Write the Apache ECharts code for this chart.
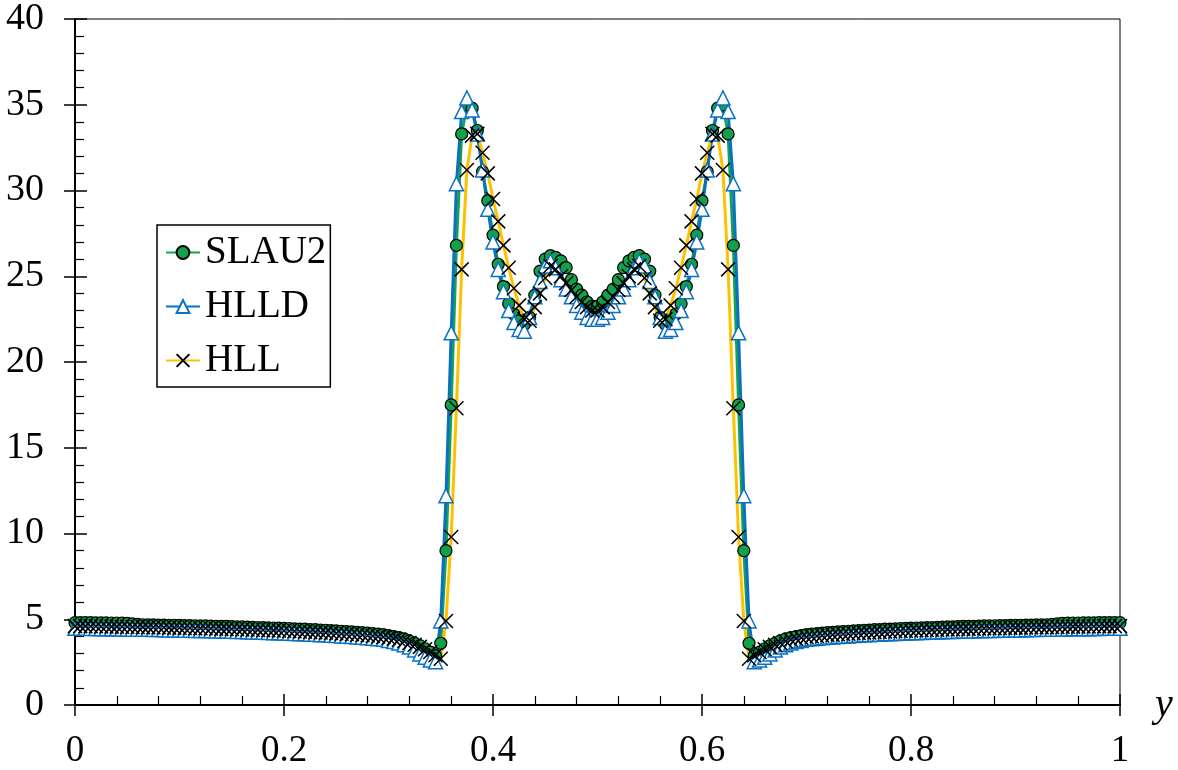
<!DOCTYPE html>
<html>
<head>
<meta charset="utf-8">
<script src="https://cdn.jsdelivr.net/npm/echarts@6/dist/echarts.min.js"></script>
<style>
html,body{margin:0;padding:0;background:#fff;}
#chart{width:1178px;height:770px;}
</style>
</head>
<body>
<div id="chart"></div>
<script>
// grid spacing of the sampled positions along y (0 .. 1)
const Y_STEP = 0.005;
const SERIES_NAMES = ['SLAU2', 'HLLD', 'HLL'];
const X_TICK_LABELS = ['0', '0.2', '0.4', '0.6', '0.8', '1'];
const Y_TICK_LABELS = ['0', '5', '10', '15', '20', '25', '30', '35', '40'];

const slau2 = [
  4.80,4.80,4.80,4.80,4.79,4.79,4.79,4.78,4.78,4.77,
  4.76,4.73,4.70,4.68,4.67,4.67,4.66,4.66,4.65,4.65,
  4.64,4.63,4.63,4.62,4.61,4.61,4.60,4.59,4.58,4.58,
  4.57,4.56,4.55,4.54,4.53,4.52,4.51,4.50,4.49,4.48,
  4.47,4.46,4.44,4.43,4.42,4.40,4.39,4.37,4.36,4.34,
  4.32,4.30,4.28,4.26,4.24,4.22,4.19,4.16,4.13,4.10,
  4.04,3.99,3.93,3.85,3.74,3.61,3.46,3.28,3.08,2.87,
  3.6,9.0,17.5,26.8,33.3,35.0,34.8,33.5,31.1,29.4,
  27.4,25.7,24.4,23.4,22.8,22.4,22.2,22.6,23.9,25.3,
  26.0,26.2,26.1,25.9,25.5,24.8,24.25,23.9,23.5,23.25,
  23.25,23.5,23.9,24.25,24.8,25.5,25.9,26.1,26.2,26.0,
  25.3,23.9,22.6,22.2,22.4,22.8,23.4,24.4,25.7,27.4,
  29.4,31.1,33.5,34.8,35.0,33.3,26.8,17.5,9.0,3.6,
  2.87,3.08,3.28,3.46,3.61,3.74,3.85,3.93,3.99,4.04,
  4.10,4.13,4.16,4.19,4.22,4.24,4.26,4.28,4.30,4.32,
  4.34,4.36,4.37,4.39,4.40,4.42,4.43,4.44,4.46,4.47,
  4.48,4.49,4.50,4.51,4.52,4.53,4.54,4.55,4.56,4.57,
  4.58,4.58,4.59,4.60,4.61,4.61,4.62,4.63,4.63,4.64,
  4.65,4.65,4.66,4.66,4.67,4.67,4.68,4.70,4.73,4.76,
  4.77,4.78,4.78,4.79,4.79,4.79,4.80,4.80,4.80,4.80,
  4.80
];

const hlld = [
  4.47,4.47,4.47,4.46,4.46,4.45,4.45,4.44,4.44,4.43,
  4.43,4.42,4.42,4.41,4.41,4.40,4.40,4.39,4.38,4.38,
  4.37,4.36,4.36,4.35,4.34,4.34,4.33,4.32,4.31,4.31,
  4.30,4.29,4.28,4.27,4.26,4.25,4.24,4.23,4.22,4.21,
  4.20,4.19,4.17,4.16,4.15,4.13,4.12,4.10,4.09,4.07,
  4.05,4.03,4.01,3.99,3.97,3.95,3.92,3.89,3.86,3.83,
  3.76,3.70,3.62,3.52,3.38,3.20,2.98,2.78,2.62,2.52,
  4.9,12.2,21.7,30.4,34.6,35.4,34.7,33.3,31.2,28.9,
  27.0,25.4,24.1,23.0,22.3,21.9,21.8,22.6,23.8,24.7,
  25.6,25.9,25.5,24.8,24.25,23.8,23.3,22.9,22.6,22.5,
  22.5,22.6,22.9,23.3,23.8,24.25,24.8,25.5,25.9,25.6,
  24.7,23.8,22.6,21.8,21.9,22.3,23.0,24.1,25.4,27.0,
  28.9,31.2,33.3,34.7,35.4,34.6,30.4,21.7,12.2,4.9,
  2.52,2.62,2.78,2.98,3.20,3.38,3.52,3.62,3.70,3.76,
  3.83,3.86,3.89,3.92,3.95,3.97,3.99,4.01,4.03,4.05,
  4.07,4.09,4.10,4.12,4.13,4.15,4.16,4.17,4.19,4.20,
  4.21,4.22,4.23,4.24,4.25,4.26,4.27,4.28,4.29,4.30,
  4.31,4.31,4.32,4.33,4.34,4.34,4.35,4.36,4.36,4.37,
  4.38,4.38,4.39,4.40,4.40,4.41,4.41,4.42,4.42,4.43,
  4.43,4.44,4.44,4.45,4.45,4.46,4.46,4.47,4.47,4.47,
  4.47
];

const hll = [
  4.60,4.60,4.60,4.59,4.59,4.58,4.58,4.57,4.57,4.56,
  4.56,4.55,4.55,4.54,4.54,4.53,4.53,4.52,4.51,4.51,
  4.50,4.49,4.49,4.48,4.47,4.47,4.46,4.45,4.44,4.44,
  4.43,4.42,4.41,4.40,4.39,4.38,4.37,4.36,4.35,4.34,
  4.33,4.32,4.30,4.29,4.28,4.26,4.25,4.23,4.22,4.20,
  4.18,4.16,4.14,4.12,4.10,4.08,4.05,4.02,3.99,3.96,
  3.92,3.87,3.80,3.72,3.62,3.51,3.39,3.25,3.09,2.90,
  2.70,4.9,9.8,17.3,25.4,31.2,33.2,33.3,32.2,31.0,
  29.5,28.2,26.8,25.5,24.3,23.3,22.5,22.4,23.2,24.0,
  24.9,25.6,25.4,25.0,24.6,24.2,23.8,23.5,23.2,23.0,
  23.0,23.2,23.5,23.8,24.2,24.6,25.0,25.4,25.6,24.9,
  24.0,23.2,22.4,22.5,23.3,24.3,25.5,26.8,28.2,29.5,
  31.0,32.2,33.3,33.2,31.2,25.4,17.3,9.8,4.9,2.70,
  2.90,3.09,3.25,3.39,3.51,3.62,3.72,3.80,3.87,3.92,
  3.96,3.99,4.02,4.05,4.08,4.10,4.12,4.14,4.16,4.18,
  4.20,4.22,4.23,4.25,4.26,4.28,4.29,4.30,4.32,4.33,
  4.34,4.35,4.36,4.37,4.38,4.39,4.40,4.41,4.42,4.43,
  4.44,4.44,4.45,4.46,4.47,4.47,4.48,4.49,4.49,4.50,
  4.51,4.51,4.52,4.53,4.53,4.54,4.54,4.55,4.55,4.56,
  4.56,4.57,4.57,4.58,4.58,4.59,4.59,4.60,4.60,4.60,
  4.60
];

const FONT = '"Liberation Serif","Times New Roman",serif';
const pairs = arr => arr.map((v, i) => [+(i * Y_STEP).toFixed(4), v]);

const xLabelFmt = v => {
  const idx = Math.round(v / 0.2);
  return X_TICK_LABELS[idx] !== undefined ? X_TICK_LABELS[idx] : '';
};
const yLabelFmt = v => {
  const idx = Math.round(v / 5);
  return Y_TICK_LABELS[idx] !== undefined ? Y_TICK_LABELS[idx] : '';
};

const chart = echarts.init(document.getElementById('chart'), null, {renderer: 'canvas'});
const option = {
  animation: false,
  backgroundColor: '#fff',
  grid: {
    left: 75, right: 58, top: 18, bottom: 65,
    show: true, borderColor: '#000', borderWidth: 1, backgroundColor: 'transparent'
  },
  legend: {
    orient: 'vertical',
    left: 157, top: 225,
    padding: [8, 4, 7, 8],
    itemGap: 15,
    itemWidth: 34,
    itemHeight: 16,
    borderColor: '#000',
    borderWidth: 1.5,
    backgroundColor: '#fff',
    textStyle: {fontFamily: FONT, fontSize: 39, color: '#000'},
    data: SERIES_NAMES
  },
  xAxis: [
    {
      type: 'value', min: 0, max: 1, interval: 0.2, position: 'bottom',
      axisLine: {show: true, onZero: false, lineStyle: {color: '#000', width: 2}},
      axisTick: {show: true, inside: true, length: 11, lineStyle: {color: '#000', width: 1.5}},
      minorTick: {show: true, splitNumber: 5, length: 9, lineStyle: {color: '#000', width: 1.2}},
      splitLine: {show: false},
      axisLabel: {color: '#000', fontFamily: FONT, fontSize: 37, margin: 28, formatter: xLabelFmt},
      name: 'y', nameLocation: 'end', nameGap: 35,
      nameTextStyle: {fontFamily: FONT, fontStyle: 'italic', fontSize: 40, color: '#000'}
    },
    {
      type: 'value', min: 0, max: 1, interval: 0.2, position: 'bottom',
      axisLine: {show: false},
      axisTick: {show: true, inside: false, length: 11, lineStyle: {color: '#000', width: 1.5}},
      splitLine: {show: false},
      axisLabel: {show: false}
    }
  ],
  yAxis: [
    {
      type: 'value', min: 0, max: 40, interval: 5, position: 'left',
      axisLine: {show: true, onZero: false, lineStyle: {color: '#000', width: 2}},
      axisTick: {show: true, inside: true, length: 12, lineStyle: {color: '#000', width: 1.5}},
      minorTick: {show: true, splitNumber: 5, length: 9, lineStyle: {color: '#000', width: 1.2}},
      splitLine: {show: false},
      axisLabel: {color: '#000', fontFamily: FONT, fontSize: 38, margin: 31, formatter: yLabelFmt}
    },
    {
      type: 'value', min: 0, max: 40, interval: 5, position: 'left',
      axisLine: {show: false},
      axisTick: {show: true, inside: false, length: 11, lineStyle: {color: '#000', width: 1.5}},
      splitLine: {show: false},
      axisLabel: {show: false}
    }
  ],
  series: [
    {
      name: 'SLAU2', type: 'line', data: pairs(slau2),
      symbol: 'circle', symbolSize: 12, showAllSymbol: true,
      lineStyle: {color: '#16A34F', width: 3},
      itemStyle: {color: '#12A04A', borderColor: '#000', borderWidth: 1.2}
    },
    {
      name: 'HLLD', type: 'line', data: pairs(hlld),
      symbol: 'triangle', symbolSize: 14, showAllSymbol: true,
      lineStyle: {color: '#0A70C2', width: 3},
      itemStyle: {color: '#fff', borderColor: '#0A70C2', borderWidth: 1.5}
    },
    {
      name: 'HLL', type: 'line', data: pairs(hll),
      symbol: 'path://M0,0L10,10M10,0L0,10', symbolSize: 14, showAllSymbol: true,
      lineStyle: {color: '#FFC000', width: 3},
      itemStyle: {color: 'rgba(0,0,0,0)', borderColor: '#000', borderWidth: 1.5}
    }
  ]
};
chart.setOption(option);
</script>
</body>
</html>
